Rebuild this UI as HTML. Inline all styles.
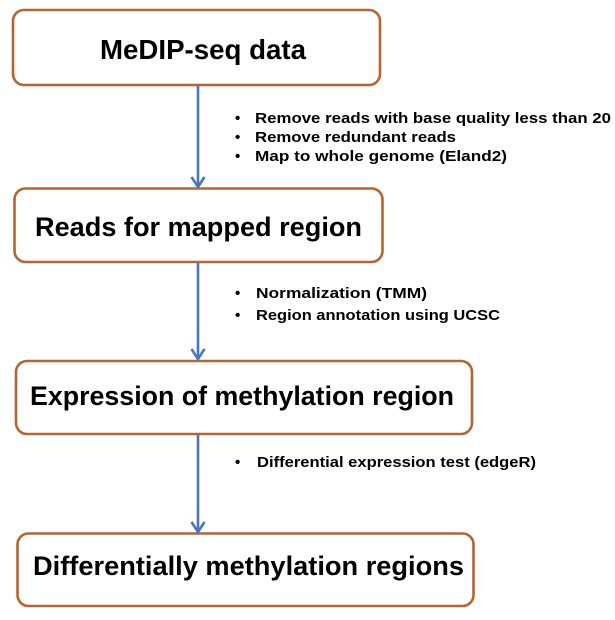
<!DOCTYPE html>
<html><head><meta charset="utf-8"><style>html,body{margin:0;padding:0;background:#fff}</style></head>
<body>
<svg width="615" height="615" viewBox="0 0 615 615" xmlns="http://www.w3.org/2000/svg" font-family="Liberation Sans, DejaVu Sans, sans-serif" font-weight="bold">
<g fill="#fff" stroke="#b5652f" stroke-width="2.6">
<rect x="13" y="10" width="367" height="75" rx="11"/>
<rect x="14.5" y="188.5" width="368" height="73.5" rx="11"/>
<rect x="16" y="361" width="456" height="73" rx="11"/>
<rect x="17.5" y="533.5" width="456" height="72.5" rx="11"/>
</g>
<g stroke="#4a76bf" stroke-width="2.6" fill="none">
<line x1="198" y1="86" x2="198" y2="186"/>
<path d="M191.5,177 L198,187 L204.5,177"/>
<line x1="198" y1="263" x2="198" y2="358"/>
<path d="M191.5,349 L198,359 L204.5,349"/>
<line x1="198" y1="435" x2="198" y2="531"/>
<path d="M191.5,522 L198,532 L204.5,522"/>
</g>
<g fill="#000">
<text x="100" y="59" font-size="28" textLength="206" lengthAdjust="spacingAndGlyphs">MeDIP-seq data</text>
<text x="35" y="236" font-size="27" textLength="327" lengthAdjust="spacingAndGlyphs">Reads for mapped region</text>
<text x="30" y="405" font-size="27" textLength="424" lengthAdjust="spacingAndGlyphs">Expression of methylation region</text>
<text x="33" y="575" font-size="27" textLength="431" lengthAdjust="spacingAndGlyphs">Differentially methylation regions</text>
<g font-size="15">
<text x="235" y="123">•</text><text x="255" y="123" textLength="356" lengthAdjust="spacingAndGlyphs">Remove reads  with base quality less than 20</text>
<text x="235" y="142">•</text><text x="255" y="142" textLength="201" lengthAdjust="spacingAndGlyphs">Remove redundant reads</text>
<text x="235" y="161">•</text><text x="255" y="161" textLength="252" lengthAdjust="spacingAndGlyphs">Map to whole genome (Eland2)</text>
<text x="235" y="298">•</text><text x="256" y="298" textLength="171" lengthAdjust="spacingAndGlyphs">Normalization (TMM)</text>
<text x="235" y="320">•</text><text x="256" y="320" textLength="244" lengthAdjust="spacingAndGlyphs">Region annotation using UCSC</text>
<text x="235" y="467">•</text><text x="257" y="467" textLength="279" lengthAdjust="spacingAndGlyphs">Differential expression test (edgeR)</text>
</g>
</g>
</svg>
</body></html>
